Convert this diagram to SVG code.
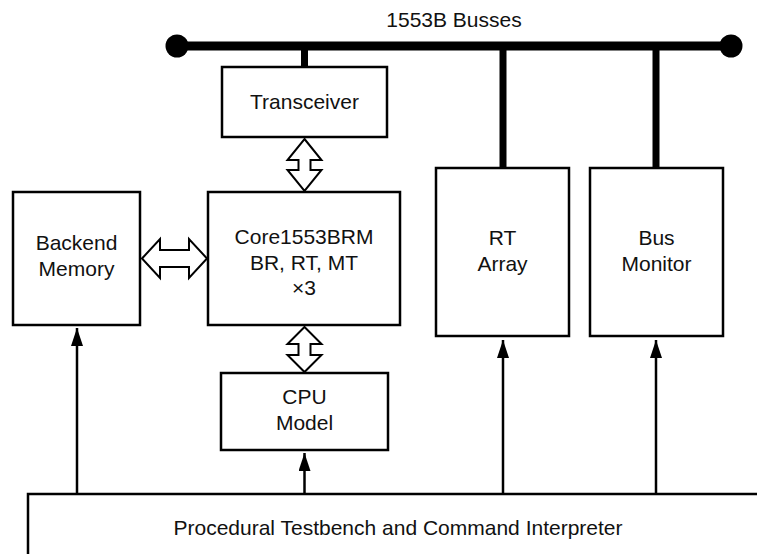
<svg xmlns="http://www.w3.org/2000/svg" width="757" height="554" viewBox="0 0 757 554">
<defs>
<style>
.box{fill:#fff;stroke:#000;stroke-width:2.5}
.t{font-family:"Liberation Sans",Arial,sans-serif;font-size:21px;fill:#111;text-anchor:middle}
.bus{stroke:#000;stroke-width:9;fill:none}
.stub{stroke:#000;stroke-width:7;fill:none}
.ln{stroke:#000;stroke-width:2.5;fill:none}
.dbl{fill:#fff;stroke:#000;stroke-width:2;stroke-linejoin:miter}
</style>
<marker id="ah" viewBox="0 0 18 12" refX="18" refY="6" markerWidth="18" markerHeight="12" markerUnits="userSpaceOnUse" orient="auto">
<path d="M0,0 L18,6 L0,12 z" fill="#000"/>
</marker>
</defs>
<rect width="757" height="554" fill="#fff"/>
<text class="t" x="454" y="27">1553B Busses</text>
<g id="bus">
<line class="bus" x1="177" y1="46" x2="731" y2="46"/>
<circle cx="177" cy="46" r="11.5" fill="#000"/>
<circle cx="731" cy="46" r="11.5" fill="#000"/>
</g>
<g id="connectors">
<line class="stub" x1="304.5" y1="46" x2="304.5" y2="68"/>
<line class="stub" x1="503" y1="46" x2="503" y2="169"/>
<line class="stub" x1="656" y1="46" x2="656" y2="169"/>
<path class="dbl" d="M304.5,139 L321.5,160 L310.5,160 L310.5,170 L321.5,170 L304.5,191 L287.5,170 L298.5,170 L298.5,160 L287.5,160 Z"/>
<path class="dbl" d="M304.5,327 L321.5,344 L310.5,344 L310.5,355 L321.5,355 L304.5,372 L287.5,355 L298.5,355 L298.5,344 L287.5,344 Z"/>
<path class="dbl" d="M142,258.5 L160,239 L160,250 L189,250 L189,239 L207,258.5 L189,278 L189,267 L160,267 L160,278 Z"/>
<line class="ln" x1="77" y1="494" x2="77" y2="328"   marker-end="url(#ah)"/>
<line class="ln" x1="304.5" y1="494" x2="304.5" y2="453" marker-end="url(#ah)"/>
<line class="ln" x1="503" y1="494" x2="503" y2="340" marker-end="url(#ah)"/>
<line class="ln" x1="656" y1="494" x2="656" y2="340" marker-end="url(#ah)"/>
</g>
<g id="transceiver">
<rect class="box" x="222" y="67" width="165" height="70"/>
<text class="t" x="304.5" y="109">Transceiver</text>
</g>
<g id="core">
<rect class="box" x="208" y="192" width="192" height="133"/>
<text class="t" x="304" y="244">Core1553BRM</text>
<text class="t" x="304" y="270">BR, RT, MT</text>
<text class="t" x="304" y="295">×3</text>
</g>
<g id="backend">
<rect class="box" x="13" y="192" width="127" height="133"/>
<text class="t" x="76.5" y="250">Backend</text>
<text class="t" x="76.5" y="276">Memory</text>
</g>
<g id="rtarray">
<rect class="box" x="436" y="168" width="133" height="168"/>
<text class="t" x="502.5" y="245">RT</text>
<text class="t" x="502.5" y="271">Array</text>
</g>
<g id="busmonitor">
<rect class="box" x="590" y="168" width="133" height="168"/>
<text class="t" x="656.5" y="245">Bus</text>
<text class="t" x="656.5" y="271">Monitor</text>
</g>
<g id="cpu">
<rect class="box" x="221" y="373" width="167" height="77"/>
<text class="t" x="304.5" y="404">CPU</text>
<text class="t" x="304.5" y="430">Model</text>
</g>
<g id="testbench">
<rect class="box" x="28" y="494" width="745" height="80"/>
<text class="t" x="398" y="535">Procedural Testbench and Command Interpreter</text>
</g>
</svg>
